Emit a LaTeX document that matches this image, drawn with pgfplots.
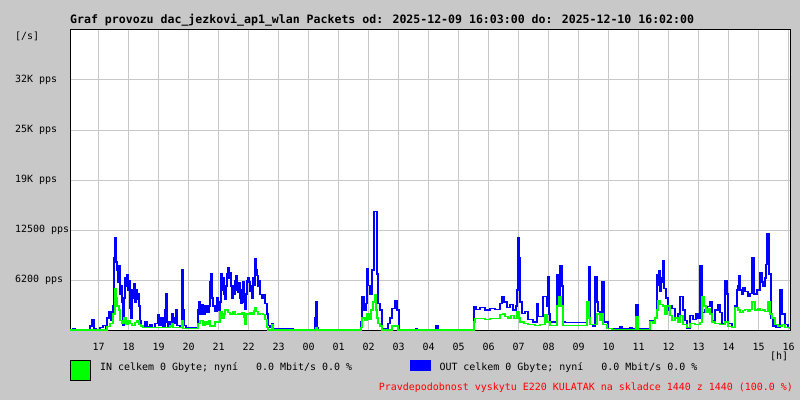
\documentclass[border=0pt]{standalone}
\usepackage{fontspec}
\setmainfont{DejaVu Sans Mono}
\usepackage{pgfplots}
\pgfplotsset{compat=1.18}
\usepackage{pgfplotstable}
\definecolor{bg}{RGB}{200,200,200}
\definecolor{gridc}{RGB}{200,200,200}
\definecolor{outblue}{RGB}{0,0,255}
\definecolor{ingreen}{RGB}{0,255,0}
\definecolor{redtxt}{RGB}{255,0,0}
% t = minutes since 2025-12-09 16:03, pps = packets per second
\pgfplotstableread{
t pps
0 0
6 150
10 0
40 500
44 1250
48 200
52 0
60 300
66 600
72 200
74 1500
78 2300
82 1200
86 3000
88 9000
90 11500
92 8500
94 7500
96 6000
98 8000
100 4500
102 5500
104 3500
106 600
108 4000
110 6500
112 5500
114 6900
116 5000
118 6200
120 2700
122 1500
124 5000
126 4000
128 5800
130 3500
132 5000
134 3800
136 4500
138 3000
140 1200
142 600
146 500
150 1000
154 400
160 700
164 300
170 800
176 1900
178 600
182 1500
186 300
190 2500
192 4600
194 1000
196 300
200 1000
204 2000
206 800
210 1500
212 2500
214 600
220 300
224 7600
226 2500
228 600
232 300
256 2500
258 3500
260 2000
264 3200
266 2000
270 3000
274 2200
278 3000
280 6000
282 7000
284 4000
286 3000
290 2300
294 4000
296 2500
300 3500
302 7000
304 5000
306 6500
308 4500
310 3800
312 5500
314 7000
316 7800
318 6500
320 7200
322 5500
324 4000
326 5600
328 4500
330 6200
332 6800
334 5000
336 4700
338 5900
340 4000
342 3300
344 5000
346 6100
348 3500
350 2600
352 4500
354 6200
356 6600
358 6000
360 4800
362 5500
364 4000
366 6500
368 5600
370 8900
372 7500
374 6800
376 5400
378 6200
380 4400
384 4000
388 4400
390 3300
394 2000
396 600
400 300
404 850
406 200
446 0
490 1500
492 3500
494 300
496 0
582 1000
584 4200
588 2500
592 3300
594 7700
596 5600
600 4500
604 7500
608 14800
614 7000
616 3300
620 2500
624 200
636 800
640 1500
644 2700
650 3700
654 2500
658 0
692 200
694 0
732 500
736 0
808 2900
812 2600
820 2800
830 2500
840 2700
850 2600
860 3300
864 4200
868 3500
874 2800
880 3200
886 2500
892 3000
894 5000
896 11500
898 9000
900 3500
904 2100
910 2300
916 1300
926 1000
934 3300
936 1700
946 4200
954 3000
956 6700
958 2000
960 1000
974 6900
976 3000
980 8100
984 5500
986 1000
990 950
1034 2700
1038 7900
1040 700
1046 500
1050 6700
1054 3500
1056 2300
1060 1500
1064 6000
1068 1000
1076 200
1100 400
1104 200
1120 300
1124 200
1132 3200
1136 200
1160 1200
1166 800
1170 1500
1174 6900
1176 5600
1178 7400
1180 4800
1182 6600
1184 6000
1186 8700
1188 5200
1192 4000
1196 2500
1200 3000
1204 2700
1210 1500
1216 2000
1220 4200
1226 2500
1230 1200
1234 200
1240 1800
1246 1300
1252 2000
1256 1500
1260 8100
1264 2200
1270 2500
1274 2900
1280 3500
1284 1200
1290 2500
1296 3200
1300 2200
1304 800
1310 6200
1314 4500
1316 800
1324 300
1330 3000
1334 5000
1336 5600
1338 6800
1340 5000
1344 4500
1346 5300
1350 4800
1356 4200
1360 4600
1364 9100
1368 4500
1374 5000
1380 7200
1384 6000
1386 5500
1390 6500
1392 8200
1394 12000
1398 7000
1402 1500
1406 500
1412 300
1420 5000
1424 2000
1430 700
1436 300
1440 300
}\outdata
\pgfplotstableread{
t pps
0 0
74 400
80 800
86 2000
90 5200
92 4000
94 3000
98 2500
100 1200
104 800
108 1500
112 700
116 1200
120 800
124 600
130 900
134 1200
138 700
142 500
146 300
200 500
204 800
206 300
222 300
224 1200
226 200
256 800
260 1200
266 600
270 1000
274 700
278 1200
280 500
290 1000
300 2300
304 1500
308 2000
310 2500
316 2200
320 2000
326 2300
330 1900
336 2100
340 2000
344 2200
348 1600
350 700
352 2100
356 1900
360 2200
364 2000
368 2400
370 2800
372 2300
376 2000
380 2100
386 1900
390 1300
394 300
396 0
404 700
406 0
492 300
494 0
582 300
584 1500
590 1200
594 2000
598 1300
602 2500
606 3500
610 4400
612 2500
614 1500
616 800
620 500
624 0
644 500
656 0
808 1000
810 1400
830 1300
840 1400
850 1400
860 1900
866 2000
870 1700
876 1500
882 1800
888 1400
894 2300
898 1500
900 1000
908 800
916 700
930 600
940 700
950 1900
954 1000
960 600
974 3000
978 4200
982 3000
986 600
1034 3500
1038 1500
1040 700
1054 2000
1060 1200
1064 2000
1066 700
1074 200
1084 100
1132 1700
1136 100
1160 1100
1166 800
1170 1500
1174 2500
1176 3700
1180 3200
1186 3000
1190 2000
1194 3000
1200 1800
1204 1200
1210 1500
1216 1000
1220 1800
1226 700
1234 300
1240 800
1250 700
1260 900
1264 4200
1268 3000
1272 2200
1276 2700
1280 2000
1284 1000
1290 800
1300 700
1310 1000
1316 400
1324 300
1330 2800
1336 2500
1340 2200
1346 2400
1350 2600
1356 2300
1360 2600
1364 3500
1370 2500
1376 2700
1380 2400
1386 2600
1390 2300
1396 3500
1400 2000
1404 1500
1410 700
1416 500
1424 700
1430 300
1440 200
}\indata
\begin{document}
\begin{tikzpicture}[x=1bp,y=1bp]
\fill[bg] (0,0) rectangle (800,400);
\begin{axis}[
  at={(70bp,70bp)}, anchor=south west,
  scale only axis, width=720bp, height=300bp,
  xmin=0, xmax=1440, ymin=0, ymax=37500,
  scaled ticks=false,
  xtick={57,117,...,1437},
  xticklabels={17,18,19,20,21,22,23,00,01,02,03,04,05,06,07,08,09,10,11,12,13,14,15,16},
  ytick={6250,12500,18750,25000,31250},
  yticklabels={6200 pps,12500 pps,19K pps,25K pps,32K pps},
  grid=major,
  major grid style={gridc, line width=1bp},
  axis line style={black, line width=1bp},
  major tick length=0pt,
  tick label style={font=\fontsize{10}{12}\selectfont},
  xticklabel style={anchor=center, yshift=-17bp},
  yticklabel style={anchor=west, xshift=-55bp, inner sep=0pt},
  axis background/.style={fill=white},
]
\addplot[outblue, line width=1.35bp, const plot] table[x=t, y=pps] {\outdata};
\addplot[ingreen, line width=1.35bp, const plot] table[x=t, y=pps] {\indata};
\end{axis}
\node[anchor=base west, inner sep=0pt, font=\bfseries\fontsize{11.6}{14}\selectfont] at (70,377) {Graf provozu dac\_jezkovi\_ap1\_wlan Packets od: 2025-12-09 16:03:00 do: 2025-12-10 16:02:00};
\node[anchor=base west, inner sep=0pt, font=\fontsize{10}{12}\selectfont] at (15,361) {[/s]};
\node[anchor=base west, inner sep=0pt, font=\fontsize{10}{12}\selectfont] at (770,41) {[h]};
\filldraw[fill=ingreen, draw=black, line width=1bp] (70.5,20) rectangle (90.5,40);
\node[anchor=base west, inner sep=0pt, font=\fontsize{10}{12}\selectfont] at (100,30) {IN celkem 0 Gbyte; nyní~~~0.0 Mbit/s 0.0 \%};
\fill[outblue] (410,29.3) rectangle (431,40);
\node[anchor=base west, inner sep=0pt, font=\fontsize{10}{12}\selectfont] at (439.3,30) {OUT celkem 0 Gbyte; nyní~~~0.0 Mbit/s 0.0 \%};
\node[anchor=base east, inner sep=0pt, font=\fontsize{10}{12}\selectfont, text=redtxt] at (793,10) {Pravdepodobnost vyskytu E220 KULATAK na skladce 1440 z 1440 (100.0 \%)};
\end{tikzpicture}
\end{document}
